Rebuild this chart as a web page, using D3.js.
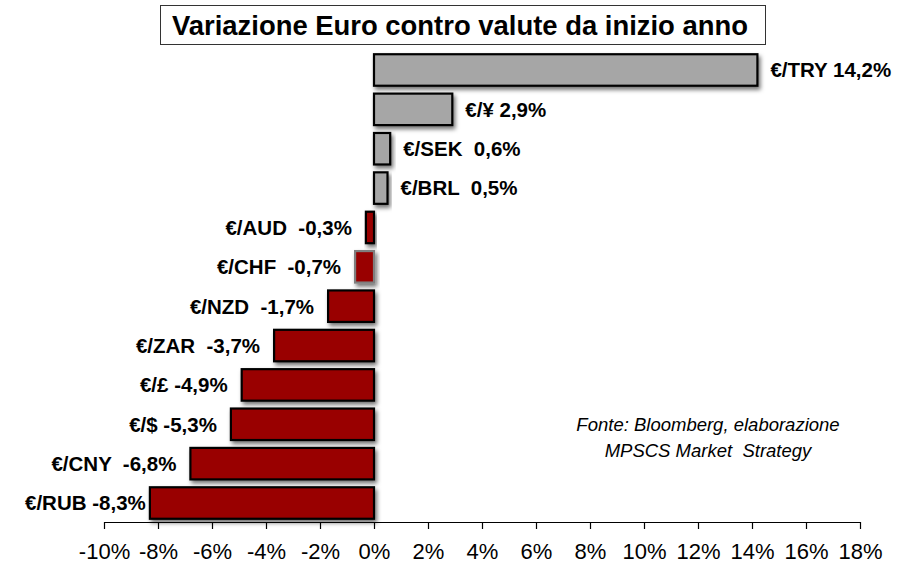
<!DOCTYPE html>
<html><head><meta charset="utf-8">
<script src="https://cdn.jsdelivr.net/npm/d3@7"></script>
<style>
html,body{margin:0;padding:0;background:#fff;}
svg{display:block;font-family:"Liberation Sans",Arial,sans-serif;}
</style></head>
<body><svg id="c" width="909" height="565"></svg>
<script>
const categories = ["€/TRY","€/¥","€/SEK","€/BRL","€/AUD","€/CHF","€/NZD","€/ZAR","€/£","€/$","€/CNY","€/RUB"];
const values = [14.2, 2.9, 0.6, 0.5, -0.3, -0.7, -1.7, -3.7, -4.9, -5.3, -6.8, -8.3];
const valueLabels = ["14,2%","2,9%","0,6%","0,5%","-0,3%","-0,7%","-1,7%","-3,7%","-4,9%","-5,3%","-6,8%","-8,3%"];
const labelSep = [" "," ","  ","  ","  ","  ","  ","  "," "," ","  "," "];
const tickValues = [-10,-8,-6,-4,-2,0,2,4,6,8,10,12,14,16,18];
const tickLabels = ["-10%","-8%","-6%","-4%","-2%","0%","2%","4%","6%","8%","10%","12%","14%","16%","18%"];
const title = "Variazione Euro contro valute da inizio anno";
const sourceLines = ["Fonte: Bloomberg, elaborazione","MPSCS Market  Strategy"];

const svg = d3.select("#c");
const x = d3.scaleLinear().domain([-10,18]).range([104,860]);
const y = d3.scaleBand().domain(categories).range([50.3,522.7]).paddingInner(0.2).paddingOuter(0.1);

const defs = svg.append("defs");
const f = defs.append("filter").attr("id","sh").attr("x","-20%").attr("y","-30%").attr("width","150%").attr("height","180%");
f.append("feDropShadow").attr("dx",2).attr("dy",3).attr("stdDeviation",2).attr("flood-color","#000").attr("flood-opacity",0.55);

// title
svg.append("rect").attr("x",160.5).attr("y",5.5).attr("width",605).attr("height",39)
  .attr("fill","#fff").attr("stroke","#333").attr("stroke-width",1);
svg.append("text").attr("x",460).attr("y",34.5).attr("text-anchor","middle")
  .attr("font-size",27).attr("font-weight","bold").attr("fill","#000")
  .attr("textLength",576).attr("lengthAdjust","spacingAndGlyphs").text(title);

// bars
const data = categories.map((c,i)=>({c, v:values[i], lab:c+labelSep[i]+valueLabels[i]}));
svg.append("g").selectAll("rect").data(data).join("rect")
  .attr("x",d=>x(Math.min(0,d.v)))
  .attr("y",d=>y(d.c))
  .attr("width",d=>Math.abs(x(d.v)-x(0)))
  .attr("height",y.bandwidth())
  .attr("fill",d=>d.v>=0?"#a6a6a6":"#990000")
  .attr("stroke",d=>d.c==="€/CHF"?"#7f7f7f":"#000")
  .attr("stroke-width",2.2)
  .attr("filter","url(#sh)");

// labels
const lab = svg.append("g").selectAll("text").data(data).join("text")
  .attr("y",d=>y(d.c)+y.bandwidth()/2)
  .attr("dy","0.36em")
  .attr("font-size",20.5).attr("font-weight","bold").attr("fill","#000")
  .style("white-space","pre")
  .attr("text-anchor",d=>d.v>=0?"start":"end")
  .text(d=>d.lab)
  .attr("x",d=>d.v>=0? x(d.v)+13 : x(d.v)-14);
lab.each(function(d){
  if(d.v<0){
    const w=this.getComputedTextLength();
    const xe=x(d.v)-14;
    if(xe-w<25) d3.select(this).attr("x",25+w);
  }
});

// axis
const ax = svg.append("g").attr("transform","translate(0,522)")
  .call(d3.axisBottom(x).tickValues(tickValues).tickSize(7).tickSizeOuter(0)
    .tickFormat((d,i)=>tickLabels[i]));
ax.select(".domain").attr("stroke","#000").attr("stroke-width",1.2);
ax.selectAll(".tick line").attr("stroke","#000").attr("stroke-width",1.2);
ax.selectAll(".tick text").attr("font-size",22).attr("fill","#000")
  .attr("font-family","'Liberation Sans',Arial,sans-serif").attr("y",21);

// source
svg.append("g").selectAll("text").data(sourceLines).join("text")
  .attr("x",708).attr("y",(d,i)=>431+i*26).attr("text-anchor","middle")
  .attr("font-size",18.5).attr("font-style","italic").attr("fill","#000")
  .style("white-space","pre")
  .text(d=>d);
</script></body></html>
